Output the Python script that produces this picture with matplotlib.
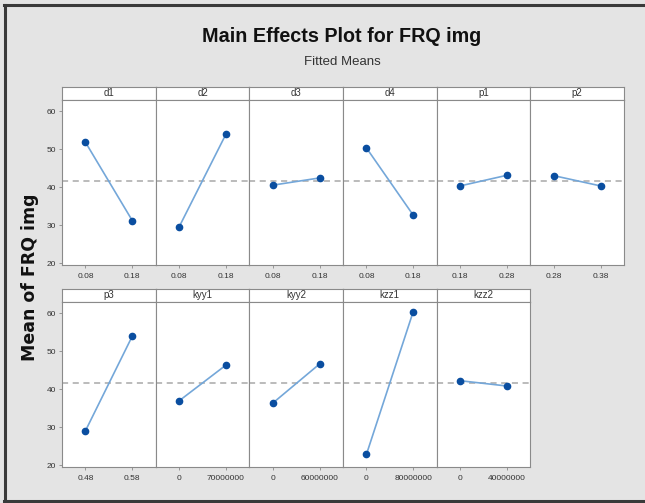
import numpy as np
import matplotlib.pyplot as plt
from matplotlib.lines import Line2D

# factor names, level labels and fitted means
factors = ['d1', 'd2', 'd3', 'd4', 'p1', 'p2',
           'p3', 'kyy1', 'kyy2', 'kzz1', 'kzz2']
levels = [['0.08', '0.18'], ['0.08', '0.18'], ['0.08', '0.18'],
          ['0.08', '0.18'], ['0.18', '0.28'], ['0.28', '0.38'],
          ['0.48', '0.58'], ['0', '70000000'], ['0', '60000000'],
          ['0', '80000000'], ['0', '40000000']]
low_means = [51.8, 29.5, 40.5, 50.3, 40.3, 43.0,
             29.0, 36.9, 36.3, 22.8, 42.2]
high_means = [31.2, 53.9, 42.4, 32.6, 43.1, 40.3,
              53.9, 46.3, 46.6, 60.4, 40.8]
grand_mean = 41.5
yticks = [20, 30, 40, 50, 60]

W, H = 645, 503
fig = plt.figure(figsize=(W / 100, H / 100), dpi=100)
fig.patch.set_facecolor('#e4e4e4')

fam = ['Liberation Sans Narrow', 'Liberation Sans', 'DejaVu Sans']

def box(x0, y0, x1, y1):
    # pixel box (top-left origin) -> figure fraction rect
    return [x0 / W, 1 - y1 / H, (x1 - x0) / W, (y1 - y0) / H]

# outer frame: left, top and bottom edges
frame = dict(transform=fig.transFigure, color='#3a3a3a', linewidth=2.2)
fig.add_artist(Line2D([5 / W, 5 / W], [1 - 5 / H, 1 - 501 / H], **frame))
fig.add_artist(Line2D([4 / W, 1], [1 - 5 / H, 1 - 5 / H], **frame))
fig.add_artist(Line2D([4 / W, 1], [1 - 501 / H, 1 - 501 / H], **frame))

fig.text(342 / W, 1 - 37 / H, 'Main Effects Plot for FRQ img',
         ha='center', va='center', fontsize=14.2, fontweight='bold',
         family=fam, color='#111111')
fig.text(342 / W, 1 - 62 / H, 'Fitted Means', ha='center', va='center',
         fontsize=9.5, family=fam, color='#333333')
fig.text(30 / W, 1 - 277 / H, 'Mean of FRQ img', ha='center', va='center',
         rotation=90, fontsize=12.5, fontweight='bold', color='#111111')

left, right = 62, 624
pw = (right - left) / 6
rows = [(87, 100, 265), (289, 302, 467)]
edge = '#8a8a8a'

for i, name in enumerate(factors):
    r, c = divmod(i, 6)
    s_top, p_top, p_bot = rows[r]
    x0 = left + c * pw
    x1 = x0 + pw

    # strip with the factor name
    sax = fig.add_axes(box(x0, s_top, x1, p_top))
    sax.set_facecolor('white')
    sax.set_xticks([])
    sax.set_yticks([])
    for sp in sax.spines.values():
        sp.set_color(edge)
        sp.set_linewidth(0.8)
    sax.text(0.5, 0.5, name, ha='center', va='center', fontsize=7,
             family=fam, color='#333333', transform=sax.transAxes)

    ax = fig.add_axes(box(x0, p_top, x1, p_bot))
    ax.set_facecolor('white')
    ax.axhline(grand_mean, color='#a8a8a8', linestyle=(0, (4, 3)),
               linewidth=1.1, zorder=1)
    ax.plot([0, 1], [low_means[i], high_means[i]], color='#74a7d9',
            linewidth=1.2, zorder=2)
    ax.plot([0, 1], [low_means[i], high_means[i]], 'o', color='#0a4ea0',
            markersize=4.5, zorder=3)
    ax.set_xlim(-0.5, 1.5)
    ax.set_ylim(19.5, 62.9)
    ax.set_xticks([0, 1])
    ax.set_xticklabels(levels[i], fontsize=6, family=fam, color='#333333')
    ax.tick_params(axis='x', length=2.5, width=0.6, color=edge, pad=3)
    if c == 0:
        ax.set_yticks(yticks)
        ax.set_yticklabels([str(v) for v in yticks], fontsize=6,
                           family=fam, color='#333333')
        ax.tick_params(axis='y', length=2.5, width=0.6, color=edge, pad=2)
    else:
        ax.set_yticks([])
    for sp in ax.spines.values():
        sp.set_color(edge)
        sp.set_linewidth(0.8)

fig.savefig('out.png', dpi=100, facecolor=fig.get_facecolor())
